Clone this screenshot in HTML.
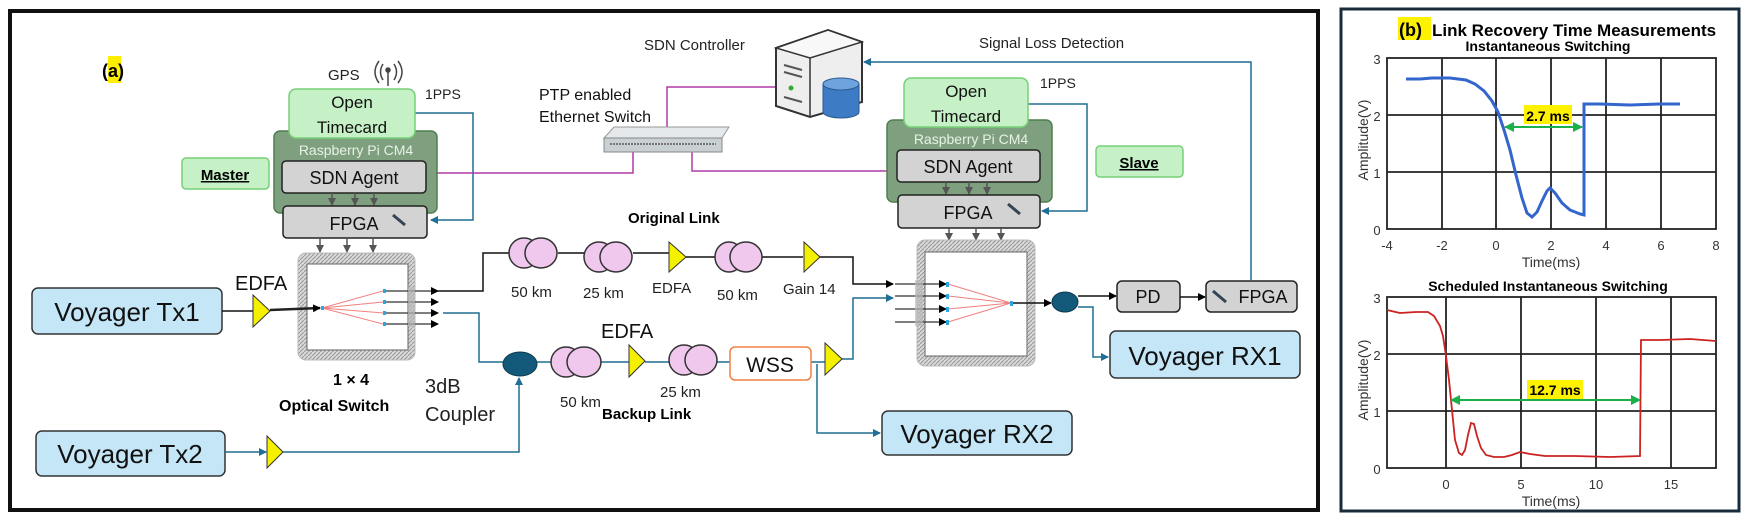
<!DOCTYPE html>
<html><head><meta charset="utf-8"><style>
html,body{margin:0;padding:0;background:#fff}
svg{display:block}
text{font-family:"Liberation Sans",sans-serif}
</style></head><body>
<svg width="1744" height="520" viewBox="0 0 1744 520" xmlns="http://www.w3.org/2000/svg">
<defs>
<pattern id="h" width="4" height="4" patternUnits="userSpaceOnUse"><rect width="4" height="4" fill="#d8d8d8"/><path d="M0,4L4,0" stroke="#999" stroke-width="1"/></pattern>
<marker id="ab" markerWidth="8" markerHeight="8" refX="7" refY="4" orient="auto" markerUnits="userSpaceOnUse"><path d="M0,0L8,4L0,8z" fill="#000"/></marker>
<marker id="abl" markerWidth="8" markerHeight="8" refX="7" refY="4" orient="auto" markerUnits="userSpaceOnUse"><path d="M0,0L8,4L0,8z" fill="#1f6f94"/></marker>
<marker id="ag" markerWidth="8" markerHeight="8" refX="7" refY="4" orient="auto" markerUnits="userSpaceOnUse"><path d="M0,0L8,4L0,8z" fill="#555"/></marker>
<marker id="agr" markerWidth="10" markerHeight="10" refX="9" refY="5" orient="auto-start-reverse" markerUnits="userSpaceOnUse"><path d="M0,0L10,5L0,10z" fill="#1ab04a"/></marker>
</defs>

<!-- Panel a border -->
<rect x="10" y="11" width="1308" height="499" fill="#fff" stroke="#111" stroke-width="4"/>
<rect x="108" y="56" width="13" height="27" fill="#ffee00"/>
<text x="102" y="77" font-size="18" font-weight="bold">(a)</text>

<!-- Master side -->
<text x="328" y="80" font-size="15" fill="#222">GPS</text>
<g fill="none" stroke="#444" stroke-width="1.5"><path d="M383,64q-5,8 0,16M379,61q-8,11 0,22M394,64q5,8 0,16M398,61q8,11 0,22"/><line x1="388" y1="70" x2="388" y2="86"/><circle cx="388" cy="70" r="2" fill="#444"/></g>
<text x="425" y="99" font-size="14" fill="#222">1PPS</text>
<path d="M415,113H473V220H431" fill="none" stroke="#1f6f94" stroke-width="1.5" marker-end="url(#abl)"/>
<rect x="274" y="131" width="163" height="82" rx="6" fill="#7fa07f" stroke="#4f7f4f" stroke-width="1.5"/>
<rect x="289" y="89" width="126" height="49" rx="7" fill="#c6f0c6" stroke="#77d077" stroke-width="1.5"/>
<text x="352" y="108" font-size="17" text-anchor="middle" fill="#111">Open</text>
<text x="352" y="133" font-size="17" text-anchor="middle" fill="#111">Timecard</text>
<text x="356" y="155" font-size="14" text-anchor="middle" fill="#e8f0e8">Raspberry Pi CM4</text>
<rect x="282" y="161" width="144" height="32" rx="4" fill="#d3d3d3" stroke="#222" stroke-width="1.5"/>
<text x="354" y="184" font-size="18" text-anchor="middle" fill="#111">SDN Agent</text>
<g stroke="#555" stroke-width="1.5" marker-end="url(#ag)"><line x1="332" y1="193" x2="332" y2="205"/><line x1="355" y1="193" x2="355" y2="205"/><line x1="374" y1="193" x2="374" y2="205"/></g>
<rect x="283" y="206" width="144" height="32" rx="4" fill="#d3d3d3" stroke="#222" stroke-width="1.5"/>
<text x="354" y="230" font-size="18" text-anchor="middle" fill="#111">FPGA</text>
<line x1="393" y1="215" x2="405" y2="225" stroke="#345" stroke-width="3"/>
<rect x="182" y="158" width="87" height="31" rx="4" fill="#c6f0c6" stroke="#77d077" stroke-width="1.5"/>
<text x="225" y="180" font-size="15" font-weight="bold" text-anchor="middle" text-decoration="underline">Master</text>
<g stroke="#555" stroke-width="1.5" marker-end="url(#ag)"><line x1="320" y1="238" x2="320" y2="252"/><line x1="347" y1="238" x2="347" y2="252"/><line x1="373" y1="238" x2="373" y2="252"/></g>

<!-- Switch/controller -->
<path d="M437,173H633V152" fill="none" stroke="#b03aa8" stroke-width="1.5"/>
<path d="M667,142V87H776" fill="none" stroke="#b03aa8" stroke-width="1.5"/>
<path d="M692,150V171H887" fill="none" stroke="#b03aa8" stroke-width="1.5"/>
<text x="539" y="100" font-size="16" font-family="Liberation Serif" fill="#111">PTP enabled</text>
<text x="539" y="122" font-size="16" font-family="Liberation Serif" fill="#111">Ethernet Switch</text>
<path d="M604,138L614,127H729L722,138z" fill="#e4e8ea" stroke="#999"/>
<rect x="604" y="138" width="118" height="14" fill="#c8d0d4" stroke="#888"/>
<line x1="610" y1="144" x2="716" y2="144" stroke="#777" stroke-width="2" stroke-dasharray="2,1"/>
<text x="644" y="50" font-size="15" fill="#222">SDN Controller</text>
<path d="M776,48L828,30L862,42V102L810,117L776,106z" fill="#eee" stroke="#333" stroke-width="2"/>
<path d="M776,48L828,30L862,42L810,58z" fill="#f8f8f8" stroke="#333" stroke-width="1.5"/>
<path d="M810,58V117" stroke="#333" stroke-width="1.5"/>
<g stroke="#555" stroke-width="2"><line x1="784" y1="65" x2="802" y2="70"/><line x1="784" y1="72" x2="802" y2="77"/><line x1="784" y1="97" x2="802" y2="102"/></g>
<circle cx="791" cy="88" r="2.5" fill="#3a3"/>
<path d="M823,84V112a18,6 0 0 0 36,0V84z" fill="#3d7cc4" stroke="#2a5a90"/>
<ellipse cx="841" cy="84" rx="18" ry="6" fill="#6fa3de" stroke="#2a5a90"/>
<text x="979" y="48" font-size="15" fill="#222">Signal Loss Detection</text>
<path d="M1251,280V62H864" fill="none" stroke="#1f6f94" stroke-width="1.5" marker-end="url(#abl)"/>

<!-- Slave side -->
<text x="1040" y="88" font-size="14" fill="#222">1PPS</text>
<path d="M1028,104H1087V211H1042" fill="none" stroke="#1f6f94" stroke-width="1.5" marker-end="url(#abl)"/>
<rect x="887" y="120" width="165" height="82" rx="6" fill="#7fa07f" stroke="#4f7f4f" stroke-width="1.5"/>
<rect x="904" y="78" width="124" height="49" rx="7" fill="#c6f0c6" stroke="#77d077" stroke-width="1.5"/>
<text x="966" y="97" font-size="17" text-anchor="middle" fill="#111">Open</text>
<text x="966" y="122" font-size="17" text-anchor="middle" fill="#111">Timecard</text>
<text x="971" y="144" font-size="14" text-anchor="middle" fill="#e8f0e8">Raspberry Pi CM4</text>
<rect x="897" y="150" width="143" height="32" rx="4" fill="#d3d3d3" stroke="#222" stroke-width="1.5"/>
<text x="968" y="173" font-size="18" text-anchor="middle" fill="#111">SDN Agent</text>
<g stroke="#555" stroke-width="1.5" marker-end="url(#ag)"><line x1="946" y1="182" x2="946" y2="194"/><line x1="969" y1="182" x2="969" y2="194"/><line x1="987" y1="182" x2="987" y2="194"/></g>
<rect x="898" y="195" width="142" height="33" rx="4" fill="#d3d3d3" stroke="#222" stroke-width="1.5"/>
<text x="968" y="219" font-size="18" text-anchor="middle" fill="#111">FPGA</text>
<line x1="1008" y1="204" x2="1020" y2="214" stroke="#345" stroke-width="3"/>
<rect x="1096" y="146" width="87" height="31" rx="4" fill="#c6f0c6" stroke="#77d077" stroke-width="1.5"/>
<text x="1139" y="168" font-size="15" font-weight="bold" text-anchor="middle" text-decoration="underline">Slave</text>
<g stroke="#555" stroke-width="1.5" marker-end="url(#ag)"><line x1="949" y1="228" x2="949" y2="240"/><line x1="976" y1="228" x2="976" y2="240"/><line x1="1001" y1="228" x2="1001" y2="240"/></g>

<!-- Left optical switch -->
<rect x="298" y="253" width="117" height="107" rx="8" fill="url(#h)" stroke="#bbb"/>
<rect x="307" y="264" width="101" height="86" fill="#fff" stroke="#666"/>
<g stroke="#f08080" stroke-width="1"><line x1="322" y1="308" x2="383" y2="291"/><line x1="322" y1="308" x2="383" y2="302"/><line x1="322" y1="308" x2="383" y2="313"/><line x1="322" y1="308" x2="383" y2="324"/></g>
<g stroke="#333" stroke-width="1.2" marker-end="url(#ab)"><line x1="386" y1="291" x2="438" y2="291"/><line x1="386" y1="302" x2="438" y2="302"/><line x1="386" y1="313" x2="438" y2="313"/><line x1="386" y1="324" x2="438" y2="324"/></g>
<g fill="#2aa6e0"><rect x="383" y="289" width="3" height="4"/><rect x="383" y="300" width="3" height="4"/><rect x="383" y="311" width="3" height="4"/><rect x="383" y="322" width="3" height="4"/><rect x="321" y="306" width="3" height="4"/></g>
<rect x="408" y="287" width="7" height="40" fill="#bbb" opacity="0.7"/>
<text x="351" y="385" font-size="16" font-weight="bold" text-anchor="middle">1 × 4</text>
<text x="279" y="411" font-size="16" font-weight="bold">Optical Switch</text>
<text x="425" y="393" font-size="20" fill="#222">3dB</text>
<text x="425" y="421" font-size="20" fill="#222">Coupler</text>

<!-- Tx1 -->
<rect x="32" y="288" width="190" height="46" rx="6" fill="#c5e6f6" stroke="#333" stroke-width="1.5"/>
<text x="127" y="321" font-size="26" text-anchor="middle" fill="#111">Voyager Tx1</text>
<line x1="222" y1="311" x2="253" y2="311" stroke="#111" stroke-width="1.5"/>
<text x="235" y="290" font-size="20" fill="#111">EDFA</text>
<path d="M253,295L270,311L253,327z" fill="#f5f000" stroke="#333"/>
<line x1="270" y1="310" x2="320" y2="308" stroke="#222" stroke-width="2.5" marker-end="url(#ab)"/>

<!-- Tx2 -->
<rect x="36" y="431" width="189" height="45" rx="6" fill="#c5e6f6" stroke="#333" stroke-width="1.5"/>
<text x="130" y="463" font-size="26" text-anchor="middle" fill="#111">Voyager Tx2</text>
<line x1="225" y1="452" x2="266" y2="452" stroke="#1f6f94" stroke-width="1.5" marker-end="url(#abl)"/>
<path d="M267,436L283,452L267,468z" fill="#f5f000" stroke="#333"/>
<path d="M283,452H519V378" fill="none" stroke="#1f6f94" stroke-width="1.5" marker-end="url(#abl)"/>

<!-- Original link -->
<text x="628" y="223" font-size="15" font-weight="bold">Original Link</text>
<path d="M438,291H483V253H509" fill="none" stroke="#111" stroke-width="1.5"/>
<line x1="558" y1="253" x2="584" y2="253" stroke="#111" stroke-width="1.5"/>
<line x1="633" y1="253" x2="670" y2="253" stroke="#111" stroke-width="1.5"/>
<line x1="686" y1="257" x2="715" y2="257" stroke="#111" stroke-width="1.5"/>
<line x1="762" y1="257" x2="803" y2="257" stroke="#111" stroke-width="1.5"/>
<path d="M818,257H853V284H893" fill="none" stroke="#111" stroke-width="1.5" marker-end="url(#ab)"/>
<g fill="#f0c8ee" stroke="#333" stroke-width="1.5">
<ellipse cx="524" cy="253" rx="15" ry="15"/><ellipse cx="541" cy="253" rx="16" ry="15"/>
<ellipse cx="599" cy="257" rx="15" ry="15"/><ellipse cx="616" cy="257" rx="16" ry="15"/>
<ellipse cx="729" cy="257" rx="14" ry="15"/><ellipse cx="746" cy="257" rx="16" ry="15"/>
</g>
<path d="M669,242L686,257L669,272z" fill="#f5f000" stroke="#333"/>
<path d="M804,242L820,257L804,272z" fill="#f5f000" stroke="#333"/>
<text x="511" y="297" font-size="15" fill="#222">50 km</text>
<text x="583" y="298" font-size="15" fill="#222">25 km</text>
<text x="652" y="293" font-size="15" fill="#222">EDFA</text>
<text x="717" y="300" font-size="15" fill="#222">50 km</text>
<text x="783" y="294" font-size="15" fill="#222">Gain 14</text>

<!-- Backup link -->
<path d="M443,313H479V362H503" fill="none" stroke="#1f6f94" stroke-width="1.5"/>
<ellipse cx="520" cy="364" rx="17" ry="12" fill="#135a7a" stroke="#0c3a50"/>
<line x1="537" y1="362" x2="629" y2="362" stroke="#1f6f94" stroke-width="1.5"/>
<line x1="645" y1="362" x2="730" y2="362" stroke="#1f6f94" stroke-width="1.5"/>
<line x1="811" y1="362" x2="825" y2="362" stroke="#1f6f94" stroke-width="1.5"/>
<path d="M840,359H853V298H893" fill="none" stroke="#1f6f94" stroke-width="1.5" marker-end="url(#abl)"/>
<path d="M817,364V433H880" fill="none" stroke="#1f6f94" stroke-width="1.5" marker-end="url(#abl)"/>
<g fill="#f0c8ee" stroke="#333" stroke-width="1.5">
<ellipse cx="566" cy="362" rx="15" ry="15"/><ellipse cx="584" cy="362" rx="17" ry="15"/>
<ellipse cx="684" cy="360" rx="15" ry="15"/><ellipse cx="701" cy="360" rx="16" ry="15"/>
</g>
<path d="M629,345L645,361L629,377z" fill="#f5f000" stroke="#333"/>
<rect x="730" y="347" width="81" height="33" rx="5" fill="#fff" stroke="#f08040" stroke-width="1.5"/>
<text x="770" y="372" font-size="21" text-anchor="middle" fill="#111">WSS</text>
<path d="M825,343L842,359L825,375z" fill="#f5f000" stroke="#333"/>
<text x="601" y="338" font-size="20" fill="#111">EDFA</text>
<text x="560" y="407" font-size="15" fill="#222">50 km</text>
<text x="660" y="397" font-size="15" fill="#222">25 km</text>
<text x="602" y="419" font-size="15" font-weight="bold">Backup Link</text>
<rect x="882" y="411" width="190" height="44" rx="6" fill="#c5e6f6" stroke="#333" stroke-width="1.5"/>
<text x="977" y="443" font-size="26" text-anchor="middle" fill="#111">Voyager RX2</text>

<!-- Right optical switch -->
<rect x="917" y="240" width="118" height="126" rx="8" fill="url(#h)" stroke="#bbb"/>
<rect x="925" y="252" width="102" height="104" fill="#fff" stroke="#666"/>
<g stroke="#f08080" stroke-width="1"><line x1="1011" y1="303" x2="948" y2="284"/><line x1="1011" y1="303" x2="948" y2="296"/><line x1="1011" y1="303" x2="948" y2="309"/><line x1="1011" y1="303" x2="948" y2="322"/></g>
<g stroke="#333" stroke-width="1.2" marker-end="url(#ab)"><line x1="895" y1="284" x2="946" y2="284"/><line x1="895" y1="296" x2="946" y2="296"/><line x1="895" y1="309" x2="946" y2="309"/><line x1="895" y1="322" x2="946" y2="322"/></g>
<rect x="915" y="280" width="8" height="46" fill="#bbb" opacity="0.7"/>
<g fill="#2aa6e0"><rect x="946" y="282" width="3" height="5"/><rect x="946" y="294" width="3" height="5"/><rect x="946" y="307" width="3" height="5"/><rect x="946" y="320" width="3" height="5"/><rect x="1010" y="301" width="3" height="5"/></g>
<line x1="1013" y1="303" x2="1051" y2="303" stroke="#111" stroke-width="1.5" marker-end="url(#ab)"/>
<ellipse cx="1065" cy="302" rx="13" ry="10" fill="#135a7a" stroke="#0c3a50"/>
<line x1="1078" y1="296" x2="1116" y2="296" stroke="#111" stroke-width="1.5" marker-end="url(#ab)"/>
<path d="M1078,307H1093V357H1108" fill="none" stroke="#1f6f94" stroke-width="1.5" marker-end="url(#abl)"/>
<rect x="1117" y="281" width="63" height="31" rx="5" fill="#d3d3d3" stroke="#222" stroke-width="1.5"/>
<text x="1148" y="303" font-size="18" text-anchor="middle" fill="#111">PD</text>
<line x1="1180" y1="297" x2="1205" y2="297" stroke="#111" stroke-width="1.5" marker-end="url(#ab)"/>
<rect x="1206" y="281" width="91" height="31" rx="5" fill="#d3d3d3" stroke="#222" stroke-width="1.5"/>
<line x1="1213" y1="291" x2="1226" y2="302" stroke="#345" stroke-width="3"/>
<text x="1263" y="303" font-size="18" text-anchor="middle" fill="#111">FPGA</text>
<rect x="1110" y="331" width="190" height="47" rx="6" fill="#c5e6f6" stroke="#333" stroke-width="1.5"/>
<text x="1205" y="365" font-size="26" text-anchor="middle" fill="#111">Voyager RX1</text>

<!-- Panel b -->
<rect x="1341" y="9" width="398" height="502" fill="#fff" stroke="#1a2c3c" stroke-width="3"/>
<rect x="1398" y="17" width="33" height="23" fill="#fff200"/>
<text x="1399" y="36" font-size="18" font-weight="bold">(b)</text>
<text x="1432" y="36" font-size="17" font-weight="bold">Link Recovery Time Measurements</text>
<text x="1548" y="51" font-size="14" font-weight="bold" text-anchor="middle">Instantaneous Switching</text>
<!-- plot1 -->
<g stroke="#222" stroke-width="1.8" fill="none">
<rect x="1387" y="58" width="329" height="171"/>
<line x1="1442" y1="58" x2="1442" y2="229"/><line x1="1496" y1="58" x2="1496" y2="229"/><line x1="1551" y1="58" x2="1551" y2="229"/><line x1="1606" y1="58" x2="1606" y2="229"/><line x1="1661" y1="58" x2="1661" y2="229"/>
<line x1="1387" y1="115" x2="1716" y2="115"/><line x1="1387" y1="172" x2="1716" y2="172"/>
</g>
<g font-size="13" fill="#333" text-anchor="middle">
<text x="1387" y="250">-4</text><text x="1442" y="250">-2</text><text x="1496" y="250">0</text><text x="1551" y="250">2</text><text x="1606" y="250">4</text><text x="1661" y="250">6</text><text x="1716" y="250">8</text>
<text x="1377" y="64">3</text><text x="1377" y="121">2</text><text x="1377" y="178">1</text><text x="1377" y="235">0</text>
</g>
<text x="1551" y="267" font-size="14" fill="#333" text-anchor="middle">Time(ms)</text>
<text transform="translate(1368,140) rotate(-90)" font-size="14" fill="#333" text-anchor="middle">Amplitude(V)</text>
<polyline fill="none" stroke="#3366cc" stroke-width="3" points="1406,79 1420,79 1432,78 1450,78 1466,80 1475,84 1484,91 1492,101 1498,112 1504,130 1510,150 1516,175 1522,198 1527,213 1532,217 1537,212 1542,201 1547,191 1550,188 1555,193 1562,203 1570,210 1580,214 1584,215 1584,104 1600,104 1630,105 1660,104 1680,104"/>
<line x1="1505" y1="127" x2="1582" y2="127" stroke="#1ab04a" stroke-width="2" marker-start="url(#agr)" marker-end="url(#agr)"/>
<rect x="1524" y="105" width="48" height="19" fill="#fff200"/>
<text x="1548" y="121" font-size="14" font-weight="bold" text-anchor="middle">2.7 ms</text>
<!-- plot2 -->
<text x="1548" y="291" font-size="14" font-weight="bold" text-anchor="middle">Scheduled Instantaneous Switching</text>
<g stroke="#222" stroke-width="1.8" fill="none">
<rect x="1387" y="297" width="329" height="171"/>
<line x1="1446" y1="297" x2="1446" y2="468"/><line x1="1521" y1="297" x2="1521" y2="468"/><line x1="1596" y1="297" x2="1596" y2="468"/><line x1="1671" y1="297" x2="1671" y2="468"/>
<line x1="1387" y1="354" x2="1716" y2="354"/><line x1="1387" y1="411" x2="1716" y2="411"/>
</g>
<g font-size="13" fill="#333" text-anchor="middle">
<text x="1446" y="489">0</text><text x="1521" y="489">5</text><text x="1596" y="489">10</text><text x="1671" y="489">15</text>
<text x="1377" y="303">3</text><text x="1377" y="360">2</text><text x="1377" y="417">1</text><text x="1377" y="474">0</text>
</g>
<text x="1551" y="506" font-size="14" fill="#333" text-anchor="middle">Time(ms)</text>
<text transform="translate(1368,380) rotate(-90)" font-size="14" fill="#333" text-anchor="middle">Amplitude(V)</text>
<polyline fill="none" stroke="#cc2222" stroke-width="1.8" points="1387,310 1400,313 1416,312 1428,312 1434,316 1440,326 1443,336 1446,356 1449,380 1452,410 1455,440 1459,453 1462,455 1465,450 1468,435 1471,423 1474,424 1477,436 1481,448 1486,455 1494,457 1504,457 1512,455 1520,452 1530,454 1545,456 1575,456 1610,457 1640,456 1641,340 1660,340 1690,339 1716,341"/>
<line x1="1451" y1="400" x2="1640" y2="400" stroke="#1ab04a" stroke-width="2" marker-start="url(#agr)" marker-end="url(#agr)"/>
<rect x="1527" y="380" width="56" height="19" fill="#fff200"/>
<text x="1555" y="395" font-size="14" font-weight="bold" text-anchor="middle">12.7 ms</text>
</svg>
</body></html>
